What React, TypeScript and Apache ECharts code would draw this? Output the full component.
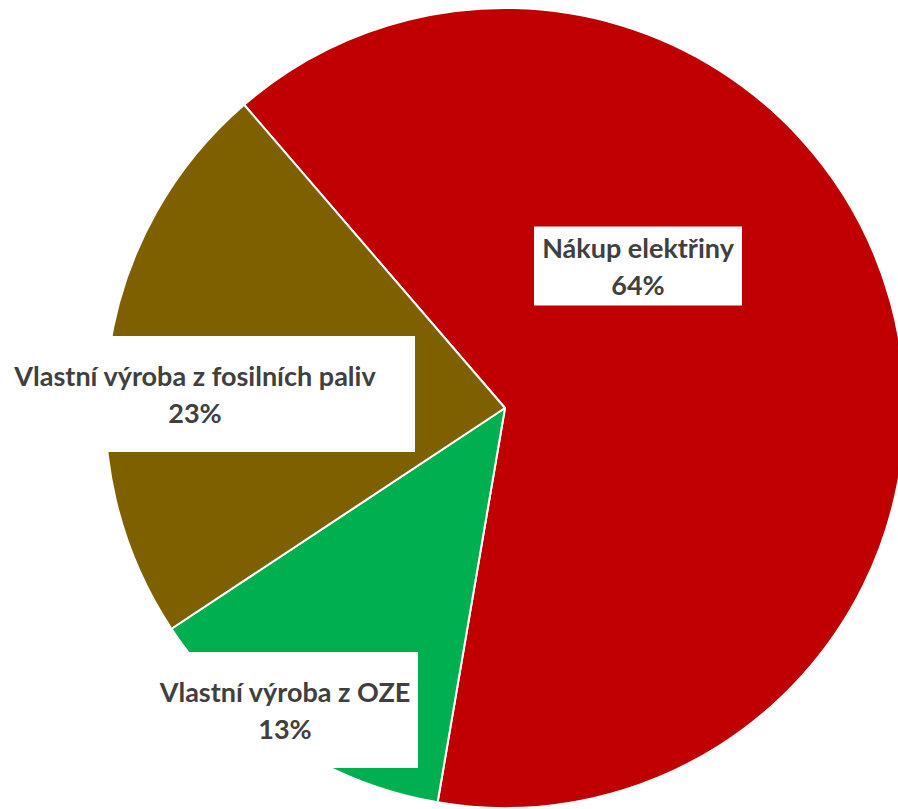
import React, { useEffect, useRef } from "react";
import * as echarts from "echarts";

const categories = ["Nákup elektřiny", "Vlastní výroba z OZE", "Vlastní výroba z fosilních paliv"];
const values = [64, 13, 23];
const colors = ["#C00000", "#00B050", "#7F6000"];

// label box geometry (center x, center y, width, height) per slice
const labelBoxes = [
  { cx: 638, cy: 266, w: 208, h: 79 },
  { cx: 285, cy: 710, w: 266, h: 116 },
  { cx: 195, cy: 394, w: 440, h: 116 },
];

export default function App() {
  const ref = useRef<HTMLDivElement>(null);
  useEffect(() => {
    if (!ref.current) return;
    const chart = echarts.init(ref.current, undefined, { renderer: "svg" });
    chart.setOption({
      animation: false,
      backgroundColor: "#ffffff",
      series: [
        {
          type: "pie",
          center: [505, 408],
          radius: [0, 400],
          startAngle: 130.7,
          clockwise: true,
          avoidLabelOverlap: false,
          itemStyle: { borderColor: "#ffffff", borderWidth: 2 },
          label: {
            show: true,
            position: "inside",
            formatter: "{b}\n{d}%",
            color: "#404040",
            fontFamily: "Lato, 'Open Sans', sans-serif",
            fontWeight: "bold",
            fontSize: 27,
            lineHeight: 37,
            backgroundColor: "#ffffff",
            align: "center",
            verticalAlign: "middle",
          },
          labelLine: { show: false },
          labelLayout: (params: any) => {
            const b = labelBoxes[params.dataIndex];
            return { x: b.cx, y: b.cy, align: "center", verticalAlign: "middle" };
          },
          data: categories.map((name, i) => ({
            name,
            value: values[i],
            itemStyle: { color: colors[i] },
            label: {
              width: labelBoxes[i].w,
              height: labelBoxes[i].h,
            },
          })),
        },
      ],
    });
    return () => chart.dispose();
  }, []);
  return (
    <div
      ref={ref}
      style={{ position: "fixed", left: 0, top: 0, width: 898, height: 809 }}
    />
  );
}
